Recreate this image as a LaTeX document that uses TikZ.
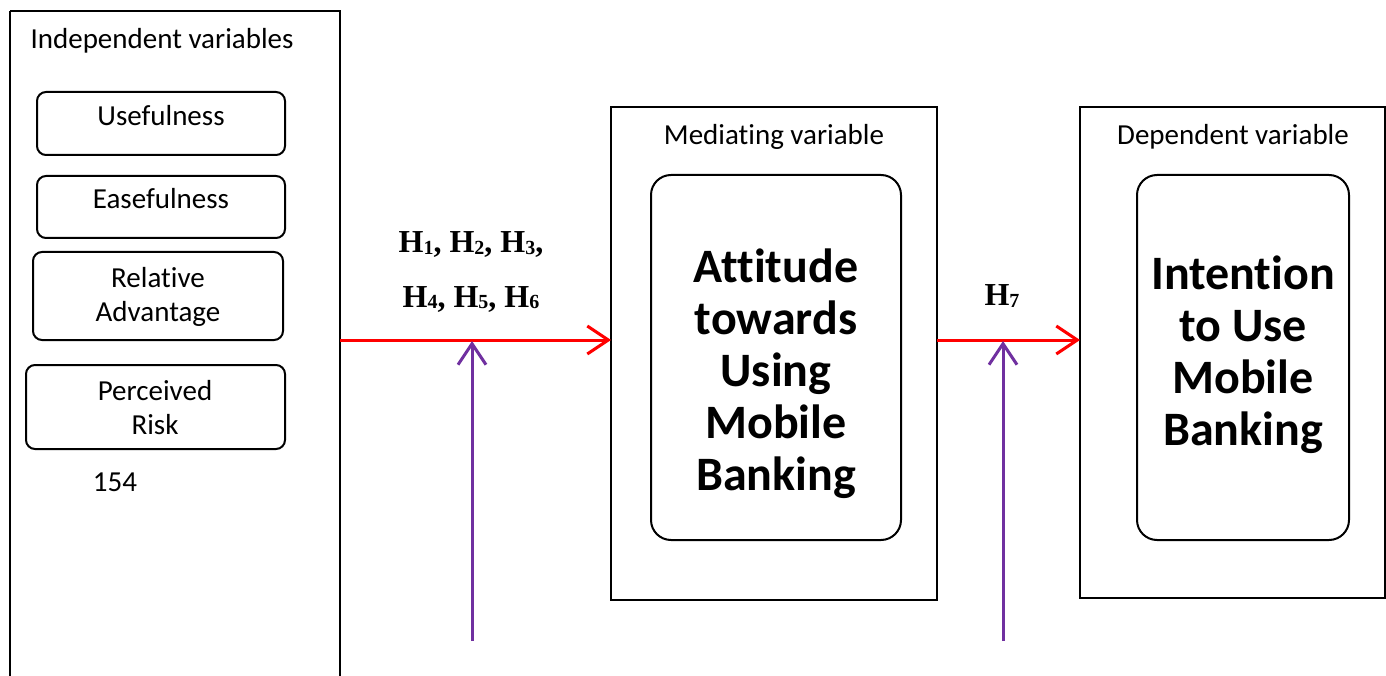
\documentclass[tikz,border=0pt]{standalone}
\usepackage{fontspec}
\setmainfont[Ligatures=NoCommon]{Carlito}
\newfontfamily\timesf{Liberation Serif}
\usetikzlibrary{arrows.meta}
\newcommand{\hsub}[1]{\raisebox{-1.5pt}{\fontsize{20}{20}\selectfont #1}}
\begin{document}
\begin{tikzpicture}[x=1pt,y=-1pt,
  outerbox/.style={draw=black,line width=2pt},
  itembox/.style={draw=black,line width=2pt,rounded corners=9pt},
  bigbox/.style={draw=black,line width=2pt,rounded corners=20pt},
  smalltxt/.style={font=\fontsize{29}{34}\selectfont,align=center},
  bigtxt/.style={font=\fontsize{48}{52}\selectfont\bfseries,align=center},
  htxt/.style={font=\timesf\bfseries\fontsize{32}{55}\selectfont,align=center},
  redarrow/.style={draw={rgb,255:red,255;green,0;blue,0},line width=3pt,-{Straight Barb[length=21pt,width=28pt,line width=3pt]}},
  purparrow/.style={draw={rgb,255:red,112;green,48;blue,160},line width=3pt,-{Straight Barb[length=21pt,width=28pt,line width=3pt]}}
]
\useasboundingbox (0,0) rectangle (1386,676);
\begin{scope}
\clip (0,0) rectangle (1386,676);
% left box
\draw[outerbox] (10,11) -- (10,700) (10,11) -- (340,11) -- (340,700);
\node[smalltxt] (indlbl) at (162,41) {Independent variables};
\draw[itembox] (37,92) rectangle (285,155);
\node[smalltxt] (use) at (161,116) {Usefulness};
\draw[itembox] (37,176) rectangle (285,238);
\node[smalltxt] (ease) at (161,199) {Easefulness};
\draw[itembox] (33,252) rectangle (283,340);
\node[smalltxt] (rel) at (158,297) {Relative\\Advantage};
\draw[itembox] (26,365) rectangle (285,449);
\node[smalltxt] (risk) at (155,408) {Perceived\\Risk};
\node[smalltxt] (num) at (115,482) {154};
% mediating
\draw[outerbox] (611,107) rectangle (937,600);
\node[smalltxt] (medlbl) at (774,137) {Mediating variable};
\draw[bigbox] (651,175) rectangle (901,540);
\node[bigtxt] (att) at (776,374) {Attitude\\towards\\Using\\Mobile\\Banking};
% dependent
\draw[outerbox] (1080,107) rectangle (1385,598);
\node[smalltxt] (deplbl) at (1233,137) {Dependent variable};
\draw[bigbox] (1137,175) rectangle (1349,540);
\node[bigtxt] (int) at (1243,355) {Intention\\to Use\\Mobile\\Banking};
% arrows
\coordinate (a1s) at (340,340);
\coordinate (a1e) at (611,340);
\coordinate (a2s) at (937,340);
\coordinate (a2e) at (1080,340);
\coordinate (p1s) at (472,641);
\coordinate (p1e) at (472,341);
\coordinate (p2s) at (1003,641);
\coordinate (p2e) at (1003,341);
\draw[redarrow] (a1s) -- (a1e);
\draw[redarrow] (a2s) -- (a2e);
\draw[purparrow] (p1s) -- (p1e);
\draw[purparrow] (p2s) -- (p2e);
\node[htxt] (h16) at (471,272) {H\hsub{1}, H\hsub{2}, H\hsub{3},\\H\hsub{4}, H\hsub{5}, H\hsub{6}};
\node[htxt] (h7) at (1002,296) {H\hsub{7}};
\end{scope}
\end{tikzpicture}
\end{document}
